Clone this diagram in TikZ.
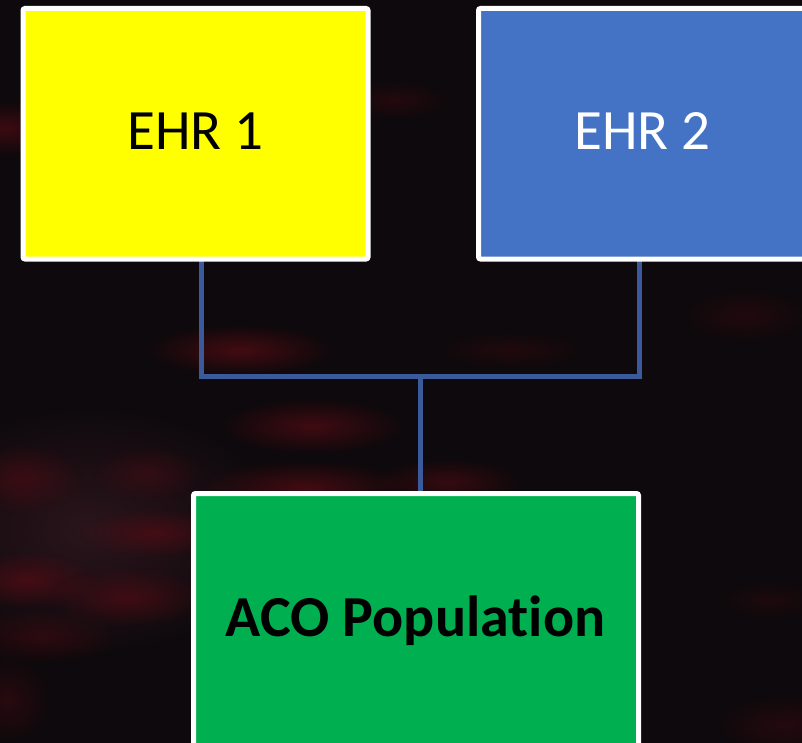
\documentclass[tikz,border=0pt]{standalone}
\usepackage{fontspec}
\setmainfont[Ligatures=NoCommon]{Carlito}
\usetikzlibrary{fadings}
\pgfdeclarelayer{backdrop}
\pgfdeclarelayer{lines}
\pgfsetlayers{backdrop,lines,main}
\tikzfading[name=glowfade, inner color=transparent!0, outer color=transparent!100]
\definecolor{bgc}{RGB}{13,9,12}
\definecolor{glowc}{RGB}{80,12,19}
\definecolor{haze}{RGB}{46,22,30}
\definecolor{conncol}{RGB}{58,90,155}
\definecolor{ehryellow}{RGB}{255,255,0}
\definecolor{ehrblue}{RGB}{68,114,196}
\definecolor{acogreen}{RGB}{0,176,80}
\tikzset{
  boxstyle/.style={draw=white, line width=5pt, rounded corners=2pt, inner sep=0pt, outer sep=0pt},
  conn/.style={draw=conncol, line width=5pt},
  glow/.style={fill=glowc, path fading=glowfade},
  txt/.style={anchor=base, inner sep=0pt, font=\fontsize{57}{60}\selectfont},
}
\begin{document}
\begin{tikzpicture}[x=1pt,y=-1pt]
\useasboundingbox (0,0) rectangle (802,743);
\begin{pgfonlayer}{backdrop}
\fill[bgc] (0,0) rectangle (802,743);
\fill[fill=haze, path fading=glowfade, fill opacity=0.9] (90,530) ellipse (200 and 130);
\fill[glow, fill opacity=0.7] (5,128) ellipse (55 and 28);
\fill[glow, fill opacity=0.35] (395,100) ellipse (55 and 20);
\fill[glow, fill opacity=0.8] (240,350) ellipse (95 and 26);
\fill[glow, fill opacity=0.75] (312,426) ellipse (95 and 28);
\fill[glow, fill opacity=0.3] (510,350) ellipse (80 and 20);
\fill[glow, fill opacity=0.3] (745,315) ellipse (70 and 28);
\fill[glow, fill opacity=0.6] (22,478) ellipse (60 and 35);
\fill[glow, fill opacity=0.45] (148,473) ellipse (55 and 28);
\fill[glow, fill opacity=0.8] (305,488) ellipse (105 and 28);
\fill[glow, fill opacity=0.6] (448,482) ellipse (75 and 24);
\fill[glow, fill opacity=0.75] (155,533) ellipse (75 and 24);
\fill[glow, fill opacity=0.8] (27,580) ellipse (70 and 28);
\fill[glow, fill opacity=0.7] (127,597) ellipse (80 and 30);
\fill[glow, fill opacity=0.45] (40,636) ellipse (80 and 28);
\fill[glow, fill opacity=0.4] (8,700) ellipse (45 and 45);
\fill[glow, fill opacity=0.35] (785,725) ellipse (75 and 32);
\fill[glow, fill opacity=0.25] (770,600) ellipse (55 and 20);
\end{pgfonlayer}
% boxes
\node[boxstyle, fill=ehryellow, minimum width=345pt, minimum height=250.5pt] (ehr1) at (195.5,133.75) {};
\node[boxstyle, fill=ehrblue, minimum width=331.5pt, minimum height=250.5pt] (ehr2) at (644.25,133.75) {};
\node[boxstyle, fill=acogreen, minimum width=445pt, minimum height=320pt] (aco) at (416,653.5) {};
% connectors
\coordinate (jl) at (201,376);
\coordinate (jr) at (639,376);
\coordinate (jm) at (420,376);
\begin{pgfonlayer}{lines}
\draw[conn] (ehr1.south -| jl) -- (jl) -- (jr) -- (ehr2.south -| jr);
\draw[conn] (jm) -- (aco.north -| jm);
\end{pgfonlayer}
% texts
\node[txt, text=black] (t1) at (195.5,150) {EHR 1};
\node[txt, text=white] (t2) at (642.5,150) {EHR 2};
\node[anchor=base, inner sep=0pt, font=\fontsize{58}{62}\selectfont\bfseries, text=black] (t3) at (415.5,636) {ACO Population};
\end{tikzpicture}
\end{document}
